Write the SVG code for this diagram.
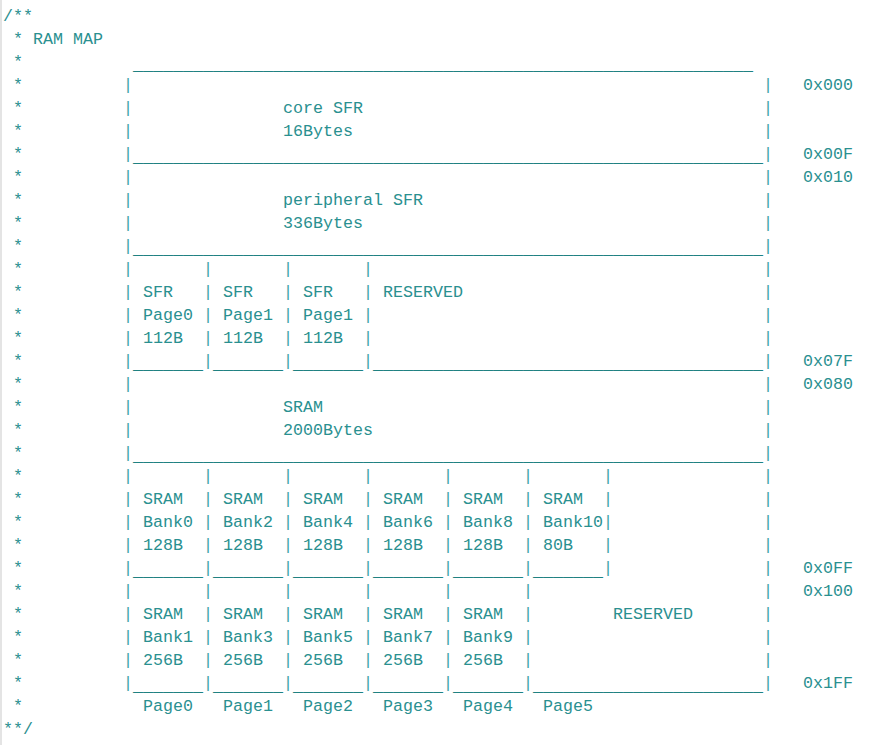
<svg xmlns="http://www.w3.org/2000/svg" width="882" height="745" viewBox="0 0 882 745">
<style>
text{font-family:"Liberation Mono","Courier New",monospace;font-size:16.667px;fill:#2a9090;white-space:pre}
.bar{fill:#3fa3a8}
.u{fill:#1f8282}
</style>
<rect x="0" y="0" width="882" height="745" fill="#ffffff"/>
<rect x="0" y="0" width="2" height="745" fill="#e4e4e4"/>
<g id="comment-frame">
<text x="3" y="21">/**</text>
<text x="13" y="44">* RAM MAP</text>
<text x="13" y="67">*</text><text x="13" y="90">*</text><text x="13" y="113">*</text><text x="13" y="136">*</text>
<text x="13" y="159">*</text><text x="13" y="182">*</text><text x="13" y="205">*</text><text x="13" y="228">*</text>
<text x="13" y="251">*</text><text x="13" y="274">*</text><text x="13" y="297">*</text><text x="13" y="320">*</text>
<text x="13" y="343">*</text><text x="13" y="366">*</text><text x="13" y="389">*</text><text x="13" y="412">*</text>
<text x="13" y="435">*</text><text x="13" y="458">*</text><text x="13" y="481">*</text><text x="13" y="504">*</text>
<text x="13" y="527">*</text><text x="13" y="550">*</text><text x="13" y="573">*</text><text x="13" y="596">*</text>
<text x="13" y="619">*</text><text x="13" y="642">*</text><text x="13" y="665">*</text><text x="13" y="688">*</text>
<text x="13" y="711">*</text>
<text x="3" y="734">**/</text>
</g>
<g id="top-edge">
<text class="u" x="133" y="70" textLength="620" lengthAdjust="spacingAndGlyphs">______________________________________________________________</text>
</g>
<g id="core-sfr">
<text y="90"><tspan x="123" class="bar">|</tspan><tspan x="763" class="bar">|</tspan></text>
<text y="113"><tspan x="123" class="bar">|</tspan><tspan x="283">core SFR</tspan><tspan x="763" class="bar">|</tspan></text>
<text y="136"><tspan x="123" class="bar">|</tspan><tspan x="283">16Bytes</tspan><tspan x="763" class="bar">|</tspan></text>
<text y="159"><tspan x="123" class="bar">|</tspan><tspan x="763" class="bar">|</tspan></text>
<text class="u" x="133" y="162" textLength="630" lengthAdjust="spacingAndGlyphs">_______________________________________________________________</text>
</g>
<g id="peripheral-sfr">
<text y="182"><tspan x="123" class="bar">|</tspan><tspan x="763" class="bar">|</tspan></text>
<text y="205"><tspan x="123" class="bar">|</tspan><tspan x="283">peripheral SFR</tspan><tspan x="763" class="bar">|</tspan></text>
<text y="228"><tspan x="123" class="bar">|</tspan><tspan x="283">336Bytes</tspan><tspan x="763" class="bar">|</tspan></text>
<text y="251"><tspan x="123" class="bar">|</tspan><tspan x="763" class="bar">|</tspan></text>
<text class="u" x="133" y="254" textLength="630" lengthAdjust="spacingAndGlyphs">_______________________________________________________________</text>
</g>
<g id="sfr-pages">
<text y="274" class="bar"><tspan x="123">|</tspan><tspan x="203">|</tspan><tspan x="283">|</tspan><tspan x="363">|</tspan><tspan x="763">|</tspan></text>
<text y="297"><tspan x="123" class="bar">|</tspan><tspan x="143">SFR</tspan><tspan x="203" class="bar">|</tspan><tspan x="223">SFR</tspan><tspan x="283" class="bar">|</tspan><tspan x="303">SFR</tspan><tspan x="363" class="bar">|</tspan><tspan x="383">RESERVED</tspan><tspan x="763" class="bar">|</tspan></text>
<text y="320"><tspan x="123" class="bar">|</tspan><tspan x="143">Page0</tspan><tspan x="203" class="bar">|</tspan><tspan x="223">Page1</tspan><tspan x="283" class="bar">|</tspan><tspan x="303">Page1</tspan><tspan x="363" class="bar">|</tspan><tspan x="763" class="bar">|</tspan></text>
<text y="343"><tspan x="123" class="bar">|</tspan><tspan x="143">112B</tspan><tspan x="203" class="bar">|</tspan><tspan x="223">112B</tspan><tspan x="283" class="bar">|</tspan><tspan x="303">112B</tspan><tspan x="363" class="bar">|</tspan><tspan x="763" class="bar">|</tspan></text>
<text y="366" class="bar"><tspan x="123">|</tspan><tspan x="203">|</tspan><tspan x="283">|</tspan><tspan x="363">|</tspan><tspan x="763">|</tspan></text>
<text y="369" class="u"><tspan x="133">_______</tspan><tspan x="213">_______</tspan><tspan x="293">_______</tspan></text>
<text class="u" x="373" y="369" textLength="390" lengthAdjust="spacingAndGlyphs">_______________________________________</text>
</g>
<g id="sram">
<text y="389"><tspan x="123" class="bar">|</tspan><tspan x="763" class="bar">|</tspan></text>
<text y="412"><tspan x="123" class="bar">|</tspan><tspan x="283">SRAM</tspan><tspan x="763" class="bar">|</tspan></text>
<text y="435"><tspan x="123" class="bar">|</tspan><tspan x="283">2000Bytes</tspan><tspan x="763" class="bar">|</tspan></text>
<text y="458"><tspan x="123" class="bar">|</tspan><tspan x="763" class="bar">|</tspan></text>
<text class="u" x="133" y="461" textLength="630" lengthAdjust="spacingAndGlyphs">_______________________________________________________________</text>
</g>
<g id="sram-banks-even">
<text y="481" class="bar"><tspan x="123">|</tspan><tspan x="203">|</tspan><tspan x="283">|</tspan><tspan x="363">|</tspan><tspan x="443">|</tspan><tspan x="523">|</tspan><tspan x="603">|</tspan><tspan x="763">|</tspan></text>
<text y="504"><tspan x="123" class="bar">|</tspan><tspan x="143">SRAM</tspan><tspan x="203" class="bar">|</tspan><tspan x="223">SRAM</tspan><tspan x="283" class="bar">|</tspan><tspan x="303">SRAM</tspan><tspan x="363" class="bar">|</tspan><tspan x="383">SRAM</tspan><tspan x="443" class="bar">|</tspan><tspan x="463">SRAM</tspan><tspan x="523" class="bar">|</tspan><tspan x="543">SRAM</tspan><tspan x="603" class="bar">|</tspan><tspan x="763" class="bar">|</tspan></text>
<text y="527"><tspan x="123" class="bar">|</tspan><tspan x="143">Bank0</tspan><tspan x="203" class="bar">|</tspan><tspan x="223">Bank2</tspan><tspan x="283" class="bar">|</tspan><tspan x="303">Bank4</tspan><tspan x="363" class="bar">|</tspan><tspan x="383">Bank6</tspan><tspan x="443" class="bar">|</tspan><tspan x="463">Bank8</tspan><tspan x="523" class="bar">|</tspan><tspan x="543">Bank10</tspan><tspan x="603" class="bar">|</tspan><tspan x="763" class="bar">|</tspan></text>
<text y="550"><tspan x="123" class="bar">|</tspan><tspan x="143">128B</tspan><tspan x="203" class="bar">|</tspan><tspan x="223">128B</tspan><tspan x="283" class="bar">|</tspan><tspan x="303">128B</tspan><tspan x="363" class="bar">|</tspan><tspan x="383">128B</tspan><tspan x="443" class="bar">|</tspan><tspan x="463">128B</tspan><tspan x="523" class="bar">|</tspan><tspan x="543">80B</tspan><tspan x="603" class="bar">|</tspan><tspan x="763" class="bar">|</tspan></text>
<text y="573" class="bar"><tspan x="123">|</tspan><tspan x="203">|</tspan><tspan x="283">|</tspan><tspan x="363">|</tspan><tspan x="443">|</tspan><tspan x="523">|</tspan><tspan x="603">|</tspan><tspan x="763">|</tspan></text>
<text y="576" class="u"><tspan x="133">_______</tspan><tspan x="213">_______</tspan><tspan x="293">_______</tspan><tspan x="373">_______</tspan><tspan x="453">_______</tspan><tspan x="533">_______</tspan></text>
</g>
<g id="sram-banks-odd">
<text y="596" class="bar"><tspan x="123">|</tspan><tspan x="203">|</tspan><tspan x="283">|</tspan><tspan x="363">|</tspan><tspan x="443">|</tspan><tspan x="523">|</tspan><tspan x="763">|</tspan></text>
<text y="619"><tspan x="123" class="bar">|</tspan><tspan x="143">SRAM</tspan><tspan x="203" class="bar">|</tspan><tspan x="223">SRAM</tspan><tspan x="283" class="bar">|</tspan><tspan x="303">SRAM</tspan><tspan x="363" class="bar">|</tspan><tspan x="383">SRAM</tspan><tspan x="443" class="bar">|</tspan><tspan x="463">SRAM</tspan><tspan x="523" class="bar">|</tspan><tspan x="613">RESERVED</tspan><tspan x="763" class="bar">|</tspan></text>
<text y="642"><tspan x="123" class="bar">|</tspan><tspan x="143">Bank1</tspan><tspan x="203" class="bar">|</tspan><tspan x="223">Bank3</tspan><tspan x="283" class="bar">|</tspan><tspan x="303">Bank5</tspan><tspan x="363" class="bar">|</tspan><tspan x="383">Bank7</tspan><tspan x="443" class="bar">|</tspan><tspan x="463">Bank9</tspan><tspan x="523" class="bar">|</tspan><tspan x="763" class="bar">|</tspan></text>
<text y="665"><tspan x="123" class="bar">|</tspan><tspan x="143">256B</tspan><tspan x="203" class="bar">|</tspan><tspan x="223">256B</tspan><tspan x="283" class="bar">|</tspan><tspan x="303">256B</tspan><tspan x="363" class="bar">|</tspan><tspan x="383">256B</tspan><tspan x="443" class="bar">|</tspan><tspan x="463">256B</tspan><tspan x="523" class="bar">|</tspan><tspan x="763" class="bar">|</tspan></text>
<text y="688" class="bar"><tspan x="123">|</tspan><tspan x="203">|</tspan><tspan x="283">|</tspan><tspan x="363">|</tspan><tspan x="443">|</tspan><tspan x="523">|</tspan><tspan x="763">|</tspan></text>
<text y="691" class="u"><tspan x="133">_______</tspan><tspan x="213">_______</tspan><tspan x="293">_______</tspan><tspan x="373">_______</tspan><tspan x="453">_______</tspan></text>
<text class="u" x="533" y="691" textLength="230" lengthAdjust="spacingAndGlyphs">_______________________</text>
</g>
<g id="page-labels">
<text y="711"><tspan x="143">Page0</tspan><tspan x="223">Page1</tspan><tspan x="303">Page2</tspan><tspan x="383">Page3</tspan><tspan x="463">Page4</tspan><tspan x="543">Page5</tspan></text>
</g>
<g id="addresses">
<text x="803" y="90">0x000</text>
<text x="803" y="159">0x00F</text>
<text x="803" y="182">0x010</text>
<text x="803" y="366">0x07F</text>
<text x="803" y="389">0x080</text>
<text x="803" y="573">0x0FF</text>
<text x="803" y="596">0x100</text>
<text x="803" y="688">0x1FF</text>
</g>
</svg>
